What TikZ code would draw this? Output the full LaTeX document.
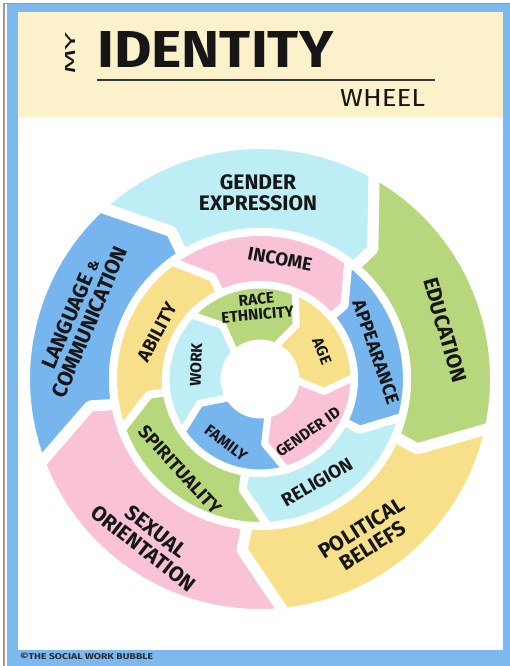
\documentclass[tikz,border=0pt]{standalone}
\usepackage{fontspec}
\setmainfont{Fira Sans}
\newfontfamily\labfont{Fira Sans}
\definecolor{wcyan}{HTML}{BEEEF5}
\definecolor{wgreen}{HTML}{B6D77B}
\definecolor{wyellow}{HTML}{F8E08A}
\definecolor{wpink}{HTML}{F9C2D7}
\definecolor{wblue}{HTML}{76B5EE}
\definecolor{frameblue}{HTML}{7DB9EF}
\definecolor{framegray}{HTML}{9A9A9A}
\definecolor{cream}{HTML}{FBF1CA}
\definecolor{ink}{HTML}{161616}
% #1 style, #2 trailing boundary angle, #3 leading boundary angle,
% #4 inner radius, #5 outer radius, #6 tip radius, #7 outer offset, #8 inner offset
\newcommand\wseg[8]{%
  \filldraw[#1] ({#2+#7}:#5pt) arc[start angle={#2+#7}, end angle={#3+#7}, radius=#5pt]
    -- (#3:#6pt) -- ({#3+#8}:#4pt)
    arc[start angle={#3+#8}, end angle={#2+#8}, radius=#4pt]
    -- (#2:#6pt) -- cycle;}
\tikzset{
  ringthree/.style={draw=white, line width=11pt, line join=round},
  ringtwo/.style={draw=white, line width=8pt, line join=round},
  ringone/.style={draw=white, line width=7pt, line join=round},
  labthree/.style={font=\labfont\bfseries\fontsize{21}{21}\selectfont, text=ink, align=center, inner sep=0pt},
  labtwo/.style={font=\labfont\bfseries\fontsize{18.5}{19}\selectfont, text=ink, align=center, inner sep=0pt},
  labone/.style={font=\labfont\bfseries\fontsize{15.5}{15.5}\selectfont, text=ink, align=center, inner sep=0pt},
  titletext/.style={inner sep=0pt, text=ink, anchor=south west}
}
\begin{document}
\begin{tikzpicture}[x=1pt,y=1pt]
\useasboundingbox (0,0) rectangle (510,666);
\fill[white] (0,0) rectangle (510,666);
\draw[framegray, line width=1.2pt] (4,0) -- (4,662.8) -- (510,662.8);
\fill[frameblue] (7,0) rectangle (510,662);
\fill[cream] (18,549) rectangle (503,654);
\fill[white] (18,16) rectangle (503,549);

% header
\node[inner sep=0pt, text=ink, rotate=90] (my) at (70,612.5) {\resizebox{43pt}{10pt}{MY}};
\node[titletext] (identity) at (97,598) {\resizebox{236pt}{36pt}{\bfseries IDENTITY}};
\coordinate (ruleL) at (97,586);
\coordinate (ruleR) at (435,586);
\draw[ink!85, line width=1.5pt] (ruleL) -- (ruleR);
\node[titletext] (wheel) at (340,559) {\resizebox{85pt}{17pt}{WHEEL}};
\node[titletext, text=ink!90] (copy) at (20,6) {\resizebox{133pt}{6.5pt}{\bfseries ©THE SOCIAL WORK BUBBLE}};

\begin{scope}[shift={(260,287)}]
  % outer ring
  \wseg{fill=wcyan,ringthree}{121}{49}{145.5}{235.5}{172}{12}{1}
  \wseg{fill=wgreen,ringthree}{49}{-24}{145.5}{235.5}{172}{12}{1}
  \wseg{fill=wyellow,ringthree}{-24}{-96}{145.5}{235.5}{172}{12}{1}
  \wseg{fill=wpink,ringthree}{-96}{-171}{145.5}{235.5}{172}{12}{1}
  \wseg{fill=wblue,ringthree}{189}{121}{145.5}{235.5}{172}{12}{1}
  % middle ring
  \wseg{fill=wpink,ringtwo}{115}{41}{94}{147}{112}{12}{0}
  \wseg{fill=wblue,ringtwo}{41}{-27}{94}{147}{112}{12}{0}
  \wseg{fill=wcyan,ringtwo}{-27}{-99}{94}{147}{112}{12}{0}
  \wseg{fill=wgreen,ringtwo}{-99}{-172}{94}{147}{112}{12}{0}
  \wseg{fill=wyellow,ringtwo}{188}{115}{94}{147}{112}{12}{0}
  % inner ring
  \wseg{fill=wgreen,ringone}{125}{56}{36}{94}{65}{12}{9}
  \wseg{fill=wyellow,ringone}{56}{-11}{36}{94}{65}{12}{9}
  \wseg{fill=wpink,ringone}{-11}{-86}{36}{94}{65}{12}{9}
  \wseg{fill=wblue,ringone}{-86}{-158}{36}{94}{65}{12}{9}
  \wseg{fill=wcyan,ringone}{202}{125}{36}{94}{65}{12}{9}
\end{scope}

% outer ring labels
\node[labthree] (ge) at (258,473) {GENDER\\EXPRESSION};
\node[labthree, rotate=-74] (edu) at (445,336) {EDUCATION};
\node[labthree, rotate=32] (pol) at (367,129) {POLITICAL\\BELIEFS};
\node[labthree, rotate=-38] (sex) at (150,126) {SEXUAL\\ORIENTATION};
\node[labthree, rotate=67] (lang) at (80,348) {LANGUAGE {\fontsize{14}{14}\selectfont\&}\\COMMUNICATION};
% middle ring labels
\node[labtwo, rotate=-11] (inc) at (280,407) {INCOME};
\node[labtwo, rotate=-71] (app) at (376,314) {APPEARANCE};
\node[labtwo, rotate=30] (rel) at (317,184) {RELIGION};
\node[labtwo, rotate=-47.5] (spi) at (180,196) {SPIRITUALITY};
\node[labtwo, rotate=62] (abi) at (157,334) {ABILITY};
% inner ring labels
\node[labone, rotate=5] (race) at (257,359) {RACE\\ETHNICITY};
\node[labone, rotate=-68] (age) at (322,315) {AGE};
\node[labone, rotate=35] (gid) at (308,234) {GENDER ID};
\node[labone, rotate=-37] (fam) at (226,223) {FAMILY};
\node[labone, rotate=88] (work) at (196,301) {WORK};
\end{tikzpicture}
\end{document}
